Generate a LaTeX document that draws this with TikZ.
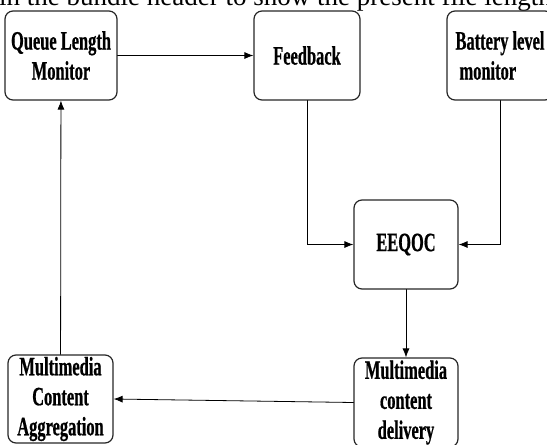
\documentclass[tikz,border=0pt]{standalone}
\usepackage{fontspec}
\setmainfont{Liberation Serif}
\newfontfamily\boxfont[FakeStretch=0.62,FakeBold=0.6]{Liberation Serif Bold}
\usepackage{tikz}
\usetikzlibrary{arrows.meta}
\usetikzlibrary{calc}
\tikzstyle{block}=[draw=black!85,line width=1.2pt,rounded corners=8pt,minimum width=106pt,minimum height=89pt,inner sep=0pt,align=center,font=\boxfont\fontsize{26.5}{30}\selectfont]
\tikzstyle{conn}=[line width=0.8pt,line cap=round,-{Latex[length=9pt,width=7pt]}]

\begin{document}
\begin{tikzpicture}[x=1pt,y=-1pt]
 \useasboundingbox (0,0) rectangle (547,445);
 \clip (0,0) rectangle (547,445);
 \node[anchor=base west,inner sep=0pt,font=\fontsize{27}{31}\selectfont] (head) at (-1,5) {in the bundle header to show the present file length};
 \node[block,minimum width=112pt] (queue) at (61,55.5) {Queue Length\\Monitor};
 \node[block] (feed) at (307,55.5) {Feedback};
 \node[block,align=left] (batt) at (500,55.5) {Battery level\\\hspace{4pt}monitor};
 \node[block,minimum width=104pt] (eeqoc) at (406,244.5) {EEQOC};
 \node[block,minimum width=104pt] (deliv) at (406,402.5) {Multimedia\\content\\delivery};
 \node[block,minimum width=105pt,minimum height=88pt] (aggr) at (60.5,399) {Multimedia\\Content\\Aggregation};
\draw [conn](queue) -- (feed);
\draw [conn](feed.south) |- (eeqoc.west);
\draw [conn](batt.south) |- (eeqoc.east);
\draw [conn](eeqoc) -- (deliv);
\draw [conn](deliv.west) -- (aggr.east);
\draw [conn](aggr) -- (queue);
\end{tikzpicture}
\end{document}
